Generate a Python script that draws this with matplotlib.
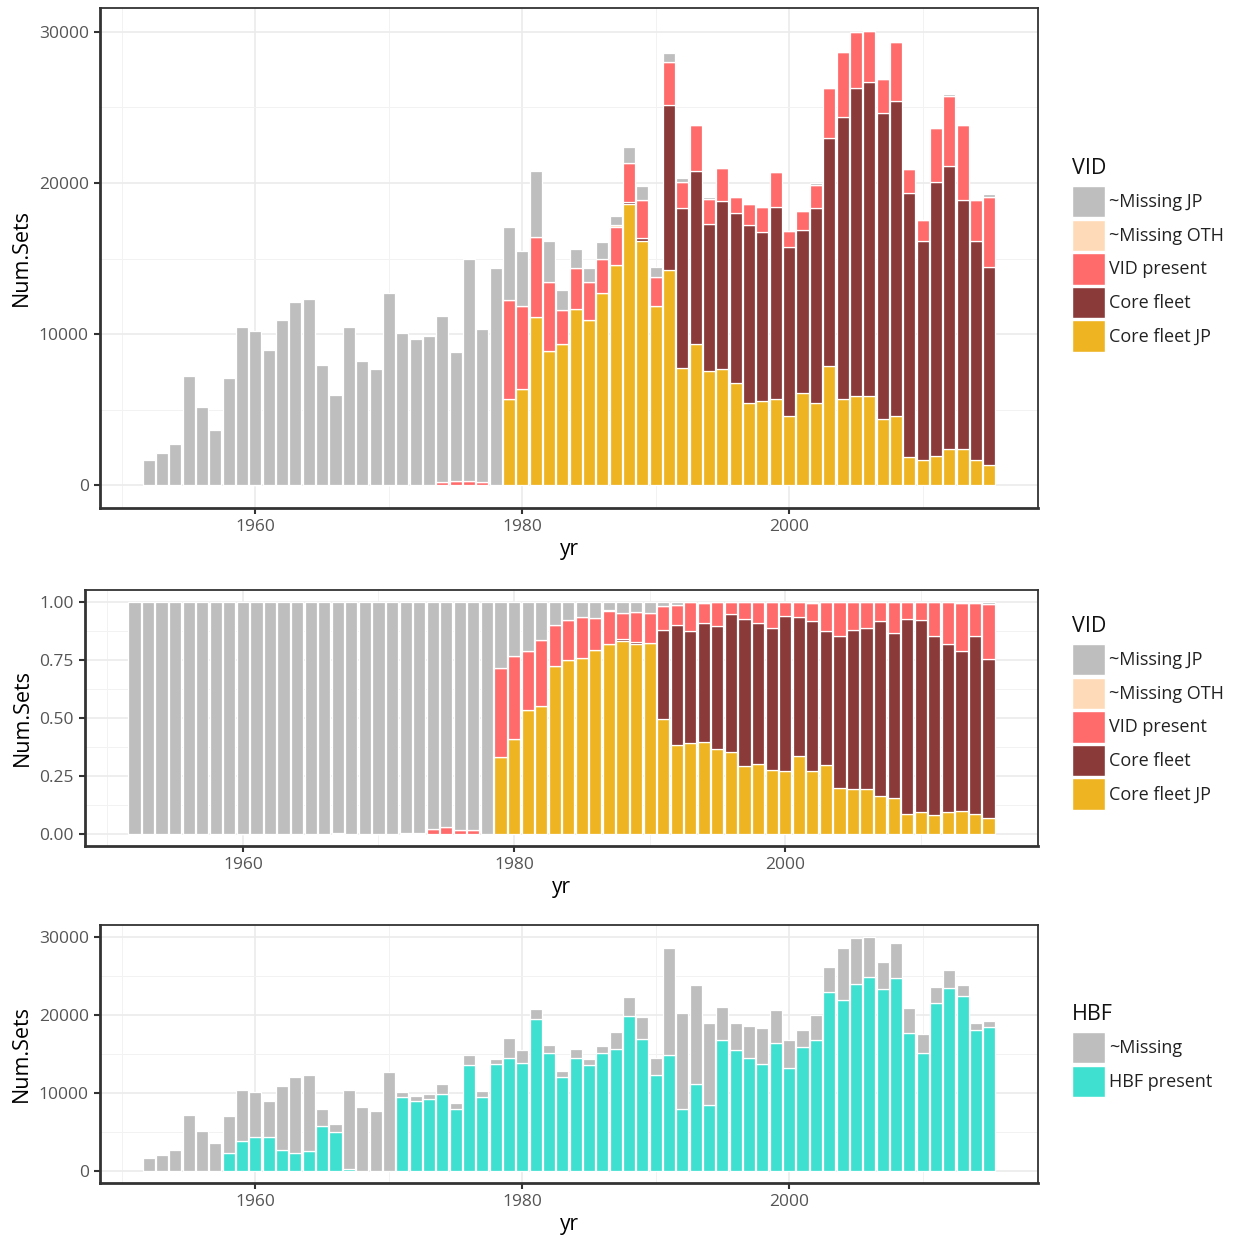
import numpy as np
import matplotlib.pyplot as plt
from matplotlib.patches import Patch
from matplotlib.ticker import MultipleLocator, FixedLocator

# years covered by the data
years = list(range(1952, 2016))

# VID categories (counts of sets per year), stacked bottom -> top
core_fleet_jp = [0] * 27 + [
    5700, 6360, 11120, 8880, 9340, 11670, 10920, 12720, 14590, 18600,
    16160, 11890, 14210, 7790, 9340, 7590, 7680, 6740, 5420, 5590,
    5700, 4590, 6080, 5420, 7860, 5700, 5900, 5900, 4410, 4590,
    1870, 1690, 1970, 2430, 2430, 1690, 1320]
core_fleet = [0] * 27 + [
    0, 0, 0, 0, 0, 0, 0, 0, 0, 150,
    200, 0, 10920, 10530, 11480, 9690, 11100, 11290, 11780, 11150,
    12700, 11200, 10830, 12900, 15130, 18670, 20350, 20810, 20240, 20830,
    17470, 14470, 18120, 18690, 16430, 14470, 13150]
vid_present = [0] * 15 + [50, 0, 0, 0, 0, 50, 50, 250, 260, 270, 190, 0] + [
    6540, 5510, 5310, 4590, 2240, 2720, 2550, 2240, 2490, 2550,
    2520, 1860, 2900, 1750, 3000, 1670, 2230, 1010, 1380, 1660,
    2320, 1030, 1210, 1570, 3260, 4290, 3710, 3360, 2240, 3900,
    1580, 1410, 3530, 4650, 4960, 2700, 4590]
missing_oth = [0] * 35 + [120] + [0] * 28
total_pre79 = [1700, 2150, 2700, 7200, 5150, 3650, 7100, 10450, 10200, 8950,
               10950, 12150, 12300, 7950, 6000, 10450, 8250, 7700, 12700, 10100,
               9650, 9900, 11200, 8800, 14950, 10350, 14400]
missing_jp_post79 = [
    4840, 3630, 4390, 2690, 1320, 1230, 920, 1120, 630, 1050,
    920, 720, 550, 280, 0, 90, 0, 0, 0, 0,
    0, 0, 0, 90, 0, 0, 0, 0, 0, 0,
    0, 0, 0, 90, 90, 90, 180]

# HBF present counts
hbf_present = [
    0, 0, 0, 0, 0, 0, 2350, 3830, 4340, 4340,
    2730, 2350, 2550, 5790, 5060, 340, 0, 0, 0, 9570,
    9020, 9230, 9950, 7960, 13570, 9570, 13740, 14460, 13900, 19510,
    15180, 12120, 14460, 13570, 15180, 15740, 19900, 17010, 12290, 14850,
    7960, 11220, 8510, 16840, 15560, 14460, 13740, 16450, 13230, 15900,
    16840, 22960, 21900, 24070, 24960, 23340, 24800, 17730, 15180, 21520,
    23520, 22450, 18070, 18460]

vid_labels = ['~Missing JP', '~Missing OTH', 'VID present', 'Core fleet', 'Core fleet JP']
vid_colors = ['#BEBEBE', '#FFDAB9', '#FF6A6A', '#8B3A3A', '#EEB422']
hbf_labels = ['~Missing', 'HBF present']
hbf_colors = ['#BEBEBE', '#40E0D0']

plt.rcParams['font.family'] = ['Open Sans', 'DejaVu Sans']

yrs = np.array(years)
jp = np.array(core_fleet_jp, dtype=float)
core = np.array(core_fleet, dtype=float)
vid = np.array(vid_present, dtype=float)
oth = np.array(missing_oth, dtype=float)
pre = np.array(total_pre79, dtype=float)
miss_jp = np.concatenate([pre - vid[:27] - oth[:27] - jp[:27] - core[:27],
                          np.array(missing_jp_post79, dtype=float)])
total = jp + core + vid + oth + miss_jp
hbf = np.array(hbf_present, dtype=float)
hbf_missing = total - hbf

W, H = 1238, 1243
fig = plt.figure(figsize=(W / 100, H / 100), dpi=100)


def px_axes(left, top, right, bottom):
    return fig.add_axes([left / W, (H - bottom) / H, (right - left) / W, (bottom - top) / H])


def style_axes(ax, ymajor, yminor):
    ax.set_xlim(1948.35, 2018.65)
    ax.xaxis.set_major_locator(FixedLocator([1960, 1980, 2000]))
    ax.xaxis.set_minor_locator(FixedLocator([1950, 1970, 1990, 2010]))
    ax.yaxis.set_major_locator(MultipleLocator(ymajor))
    ax.yaxis.set_minor_locator(MultipleLocator(yminor))
    ax.grid(which='major', color='#EBEBEB', linewidth=1.2)
    ax.grid(which='minor', color='#F2F2F2', linewidth=0.7)
    ax.set_axisbelow(True)
    ax.tick_params(which='major', length=4, width=1.5, color='#333333',
                   labelsize=12.5, labelcolor='#555555', pad=4)
    ax.tick_params(which='minor', length=0)
    for side, sp in ax.spines.items():
        sp.set_color('#333333')
        sp.set_linewidth(2.0 if side in ('left', 'bottom') else 1.3)
    ax.set_xlabel('yr', fontsize=15, labelpad=3)
    ax.set_ylabel('Num.Sets', fontsize=15.5, labelpad=5)


def stack(ax, layers, colors):
    bottom = np.zeros(len(yrs))
    for vals, col in zip(layers, colors):
        ax.bar(yrs, vals, bottom=bottom, width=0.9, color=col,
               edgecolor='white', linewidth=0.9)
        bottom = bottom + vals


def add_legend(ax, title, labels, colors, title_px, keys_px):
    # legend title drawn separately so the gap to the keys matches
    fig.text(1072 / W, (H - title_px) / H, title, fontsize=15.5,
             ha='left', va='center', color='#111111')
    handles = [Patch(facecolor=c, edgecolor='white', linewidth=1) for c in colors]
    leg = ax.legend(handles, labels, loc='upper left',
                    bbox_to_anchor=(1072 / W, (H - keys_px) / H),
                    bbox_transform=fig.transFigure, frameon=False,
                    fontsize=13, handlelength=1.8,
                    handleheight=2.3, labelspacing=0.12, handletextpad=0.25,
                    borderpad=0, borderaxespad=0)
    for t in leg.get_texts():
        t.set_color('#222222')


# stacked counts by VID
order = [jp, core, vid, oth, miss_jp]
order_cols = vid_colors[::-1]

ax1 = px_axes(100, 8, 1038, 508)
stack(ax1, order, order_cols)
ax1.set_ylim(-1503, 31574)
style_axes(ax1, 10000, 5000)
add_legend(ax1, 'VID', vid_labels, vid_colors, 168, 186)

# proportions by VID
ax2 = px_axes(85, 590, 1038, 846)
stack(ax2, [v / total for v in order], order_cols)
ax2.set_ylim(-0.05, 1.05)
style_axes(ax2, 0.25, 0.125)
ax2.yaxis.set_major_formatter(plt.FormatStrFormatter('%.2f'))
add_legend(ax2, 'VID', vid_labels, vid_colors, 627, 644)

# stacked counts by HBF
ax3 = px_axes(100, 925, 1038, 1183)
stack(ax3, [hbf, hbf_missing], hbf_colors[::-1])
ax3.set_ylim(-1503, 31574)
style_axes(ax3, 10000, 5000)
add_legend(ax3, 'HBF', hbf_labels, hbf_colors, 1014, 1032)

fig.savefig('out.png', dpi=100)
